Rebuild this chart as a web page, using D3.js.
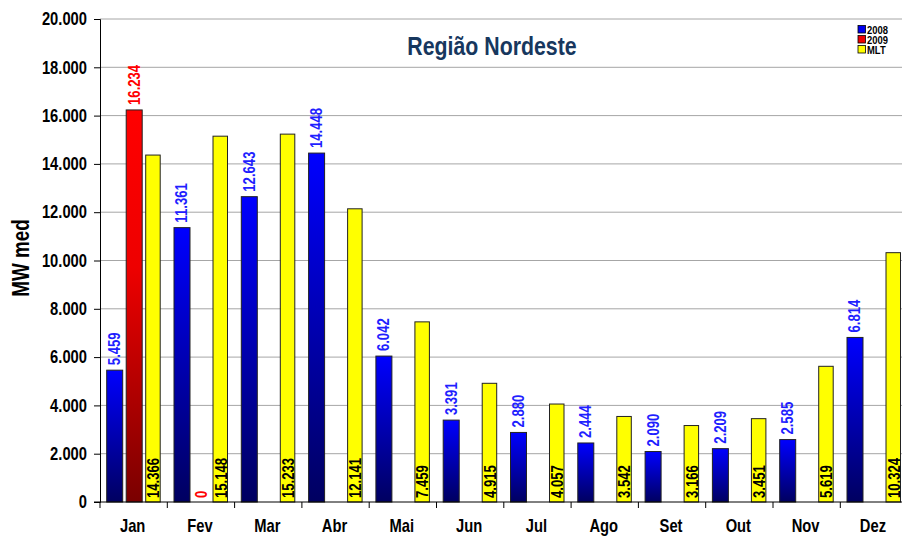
<!DOCTYPE html>
<html lang="pt">
<head>
    <meta charset="UTF-8">
    <title>Região Nordeste</title>
    <style>
        body{
            margin:0;
            background:#fff;
            font-family: "Liberation Sans", Arial, sans-serif;
        }
        svg{
            display:block;
        }
        .grid line{
            stroke:#a6a6a6;
            stroke-width:1;
        }
        .axis text{
            font-weight:bold;
            fill:#000;
        }
        .bar-label{
            font-weight:bold;
            font-size:16px;
        }
    </style>
    <script src="https://d3js.org/d3.v7.min.js"></script>
</head>
<body>
    <script>
        var months = ["Jan","Fev","Mar","Abr","Mai","Jun","Jul","Ago","Set","Out","Nov","Dez"];
        var series = ["2008","2009","MLT"];
        var values2008 = [5459, 11361, 12643, 14448, 6042, 3391, 2880, 2444, 2090, 2209, 2585, 6814];
        var values2009 = [16234, 0];
        var valuesMLT = [14366, 15148, 15233, 12141, 7459, 4915, 4057, 3542, 3166, 3451, 5619, 10324];
        var yTicks = [0, 2000, 4000, 6000, 8000, 10000, 12000, 14000, 16000, 18000, 20000];

        var width = 902, height = 537;
        var plotLeft = 100, plotRight = 907.6, plotTop = 19, plotBottom = 502;
        var narrow = 0.82; // Arial Narrow look from Liberation Sans

        var loc = d3.formatLocale({decimal: ",", thousands: ".", grouping: [3], currency: ["", ""]});
        var fmt = loc.format(",d");

        var svg = d3.select("body").append("svg")
            .attr("width", width)
            .attr("height", height);

        var defs = svg.append("defs");
        var gBlue = defs.append("linearGradient").attr("id", "gBlue")
            .attr("x1", 0).attr("y1", 0).attr("x2", 0).attr("y2", 1);
        gBlue.append("stop").attr("offset", "0%").attr("stop-color", "#0000ff");
        gBlue.append("stop").attr("offset", "100%").attr("stop-color", "#000060");
        var gRed = defs.append("linearGradient").attr("id", "gRed")
            .attr("x1", 0).attr("y1", 0).attr("x2", 0).attr("y2", 1);
        gRed.append("stop").attr("offset", "0%").attr("stop-color", "#ff0000");
        gRed.append("stop").attr("offset", "40%").attr("stop-color", "#ee0000");
        gRed.append("stop").attr("offset", "100%").attr("stop-color", "#7a0000");

        var x = d3.scaleBand().domain(months).range([plotLeft, plotRight]);
        var xs = d3.scaleBand().domain(series).range([6.7, 61.7]).paddingInner(0.18);
        var y = d3.scaleLinear().domain([0, 20000]).range([plotBottom, plotTop]);

        // grid
        svg.append("g").attr("class", "grid")
            .selectAll("line").data(yTicks.slice(1)).enter().append("line")
            .attr("x1", plotLeft).attr("x2", width)
            .attr("y1", function(d){ return y(d); })
            .attr("y2", function(d){ return y(d); });

        // bars
        var data = [];
        months.forEach(function(m, i){
            data.push({m: m, s: "2008", v: values2008[i]});
            if(i < values2009.length) data.push({m: m, s: "2009", v: values2009[i]});
            data.push({m: m, s: "MLT", v: valuesMLT[i]});
        });
        var fills = {"2008": "url(#gBlue)", "2009": "url(#gRed)", "MLT": "#ffff00"};
        var labelColor = {"2008": "#1f1fff", "2009": "#ff0000", "MLT": "#000"};

        svg.append("g").selectAll("rect").data(data.filter(function(d){ return d.v > 0; }))
            .enter().append("rect")
            .attr("x", function(d){ return x(d.m) + xs(d.s); })
            .attr("y", function(d){ return y(d.v); })
            .attr("width", function(d){ return d.s === "MLT" ? xs.bandwidth() - 1.5 : xs.bandwidth(); })
            .attr("height", function(d){ return y(0) - y(d.v); })
            .attr("fill", function(d){ return fills[d.s]; })
            .attr("stroke", "#222")
            .attr("stroke-width", 1);

        // value labels
        svg.append("g").selectAll("text").data(data).enter().append("text")
            .attr("class", "bar-label")
            .attr("fill", function(d){ return labelColor[d.s]; })
            .attr("text-anchor", "start")
            .attr("transform", function(d){
                var cx = x(d.m) + xs(d.s) + xs.bandwidth() / 2 + 5.5;
                var py = (d.s === "MLT" || d.v === 0) ? y(0) - 4 : y(d.v) - 5;
                return "translate(" + cx + "," + py + ") rotate(-90) scale(" + narrow + ",1)";
            })
            .text(function(d){ return fmt(d.v); });

        // y axis
        var yAxis = svg.append("g").attr("class", "axis")
            .attr("transform", "translate(" + plotLeft + ",0)")
            .call(d3.axisLeft(y).tickValues(yTicks).tickFormat(fmt).tickSize(6).tickPadding(8));
        yAxis.selectAll("text")
            .style("font-size", "18px")
            .attr("x", -13 / narrow)
            .attr("transform", "scale(" + narrow + ",1)");
        yAxis.select(".domain").attr("stroke", "#000");
        yAxis.selectAll(".tick line").attr("stroke", "#000");

        // x axis
        var xAxis = svg.append("g").attr("class", "axis")
            .attr("transform", "translate(0," + plotBottom + ")");
        xAxis.append("line").attr("x1", plotLeft - 6).attr("x2", width).attr("y1", 0).attr("y2", 0).attr("stroke", "#000");
        xAxis.selectAll(".tk").data(months.concat(["end"])).enter().append("line")
            .attr("x1", function(d, i){ return plotLeft + i * x.step(); })
            .attr("x2", function(d, i){ return plotLeft + i * x.step(); })
            .attr("y1", 0).attr("y2", 6).attr("stroke", "#000");
        xAxis.selectAll("text").data(months).enter().append("text")
            .attr("transform", function(d){
                return "translate(" + (x(d) + x.bandwidth() / 2 - 1) + ",30) scale(" + narrow + ",1)";
            })
            .attr("text-anchor", "middle")
            .style("font-size", "18px")
            .text(function(d){ return d; });

        // axis title
        svg.append("text")
            .attr("transform", "translate(29,258) rotate(-90) scale(" + narrow + ",1)")
            .attr("text-anchor", "middle")
            .style("font-weight", "bold")
            .style("font-size", "23px")
            .text("MW med");

        // chart title
        svg.append("text")
            .attr("transform", "translate(492,55) scale(" + narrow + ",1)")
            .attr("text-anchor", "middle")
            .style("font-weight", "bold")
            .style("font-size", "26px")
            .attr("fill", "#17375e")
            .text("Região Nordeste");

        // legend
        var legend = svg.append("g").attr("transform", "translate(858,25)");
        legend.append("rect").attr("x", -20).attr("y", -5).attr("width", 70).attr("height", 40).attr("fill", "#fff");
        var legColors = ["#0000ee", "#ee0000", "#ffff00"];
        series.forEach(function(s, i){
            legend.append("rect")
                .attr("x", 0).attr("y", i * 10 + 0.5)
                .attr("width", 7.5).attr("height", 7.5)
                .attr("fill", legColors[i]).attr("stroke", "#000").attr("stroke-width", 0.8);
            legend.append("text")
                .attr("transform", "translate(9," + (i * 10 + 8.5) + ") scale(" + narrow + ",1)")
                .style("font-weight", "bold").style("font-size", "11.5px")
                .text(s);
        });
    </script>
</body>
</html>
